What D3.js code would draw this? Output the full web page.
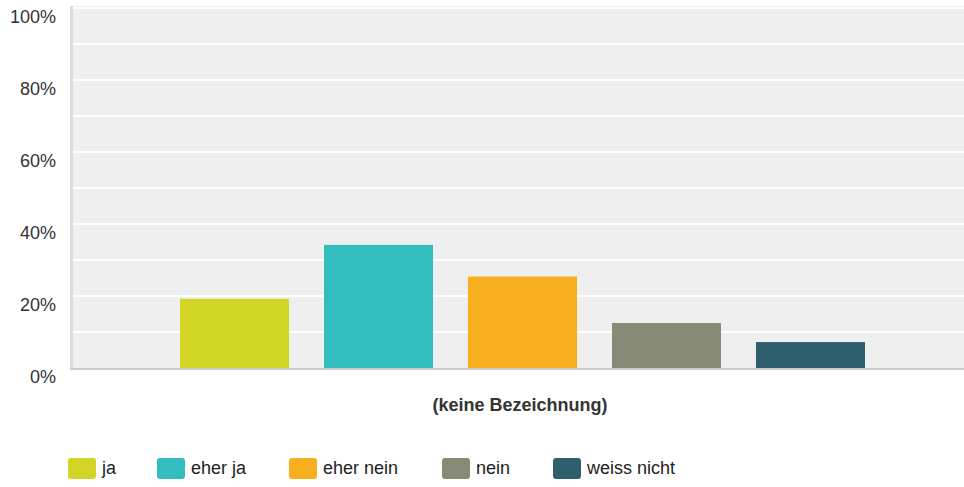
<!DOCTYPE html>
<html><head><meta charset="utf-8">
<script src="https://cdn.jsdelivr.net/npm/d3@7"></script>
<style>body{margin:0;background:#fff;} svg{display:block;font-family:"Liberation Sans",Arial,sans-serif;}</style>
</head><body>
<script>
const categories = ["ja","eher ja","eher nein","nein","weiss nicht"];
const values = [19.2, 34.2, 25.4, 12.5, 7.2];
const colors = ["#d0d526","#34bdbf","#f7ae1f","#888a78","#2f5f6d"];
const yTicks = [0,20,40,60,80,100];
const groupLabel = "(keine Bezeichnung)";

const W=964,H=487;
const svg=d3.select("body").append("svg").attr("width",W).attr("height",H);
const plot={l:73,r:964,t:6,b:368};
const y=d3.scaleLinear().domain([0,100]).range([368,8]);
const x=d3.scaleBand().domain(categories).range([162.5,882.5]).paddingInner(0.243).paddingOuter(0.1215);

svg.append("rect").attr("x",plot.l).attr("y",plot.t).attr("width",plot.r-plot.l).attr("height",plot.b-plot.t).attr("fill","#efefef");
svg.append("rect").attr("x",70).attr("y",plot.t).attr("width",3).attr("height",plot.b-plot.t+2).attr("fill","#dcdcdc");
svg.append("g").selectAll("line").data(d3.range(10,101,10)).join("line")
  .attr("x1",plot.l).attr("x2",plot.r).attr("y1",d=>y(d)).attr("y2",d=>y(d))
  .attr("stroke","#fff").attr("stroke-width",2);
svg.append("rect").attr("x",70).attr("y",368).attr("width",plot.r-70).attr("height",2).attr("fill","#cdcdcd");
svg.append("g").selectAll("text").data(yTicks).join("text")
  .attr("x",56).attr("y",d=>y(d)+15).attr("text-anchor","end")
  .attr("font-size",18).attr("fill","#333").text(d=>d+"%");
svg.append("g").selectAll("rect").data(categories).join("rect")
  .attr("x",d=>x(d)).attr("width",x.bandwidth())
  .attr("y",(d,i)=>y(values[i])).attr("height",(d,i)=>y(0)-y(values[i]))
  .attr("fill",(d,i)=>colors[i]);
svg.append("text").attr("x",520).attr("y",411).attr("text-anchor","middle")
  .attr("font-size",18).attr("font-weight","bold").attr("fill","#333").text(groupLabel);
const legX=[68,157,289,442,553];
const lg=svg.append("g").selectAll("g").data(categories).join("g")
  .attr("transform",(d,i)=>`translate(${legX[i]},458)`);
lg.append("rect").attr("width",28).attr("height",21).attr("rx",3).attr("fill",(d,i)=>colors[i]);
lg.append("text").attr("x",34).attr("y",16).attr("font-size",18).attr("fill","#222").text(d=>d);
</script>
</body></html>
